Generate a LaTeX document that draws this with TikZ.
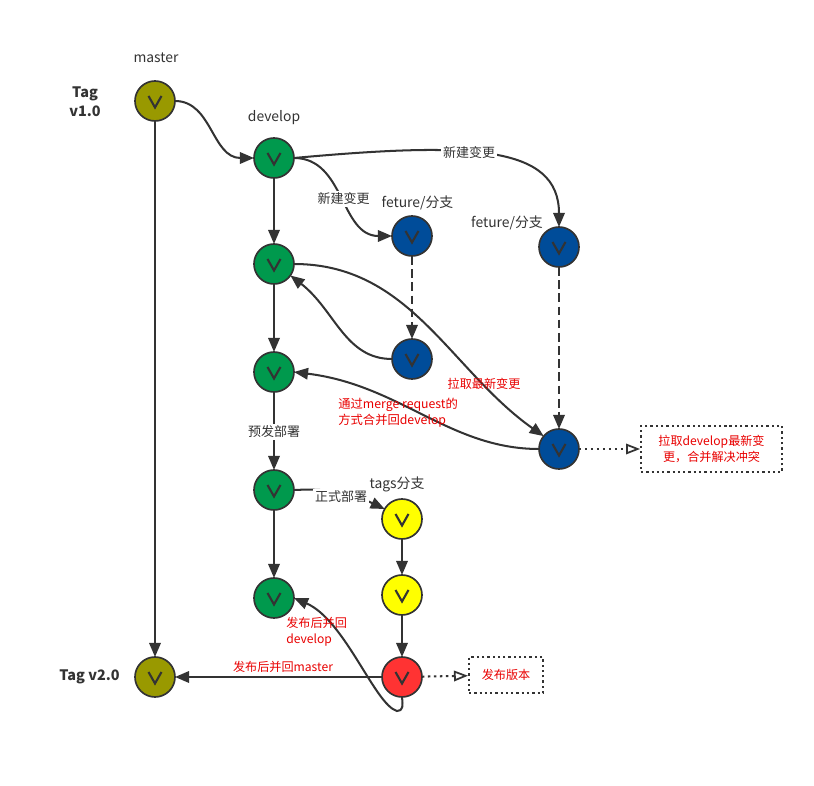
\documentclass[tikz,border=0pt]{standalone}
\usepackage{fontspec}
\setmainfont{Noto Sans CJK SC}
\usetikzlibrary{arrows.meta}
\definecolor{ink}{HTML}{333333}
\definecolor{olivec}{HTML}{999900}
\definecolor{greenc}{HTML}{00994D}
\definecolor{bluec}{HTML}{004C99}
\definecolor{yellowc}{HTML}{FFFF00}
\definecolor{redc}{HTML}{FF3333}
\definecolor{notec}{HTML}{E80000}
\begin{document}
\begin{tikzpicture}[
            x=.02cm, y=-.02cm,
            commit/.style={circle, draw=ink, line width=.95pt, minimum size=.8cm, inner sep=0pt, outer sep=0pt},
            tick/.style={draw=ink, line width=1.2pt},
            flow/.style={draw=ink, line width=1.15pt, -{Triangle[length=8pt, width=6.5pt]}},
            gap/.style={flow, dashed, dash pattern=on 5pt off 2.5pt},
            hint/.style={draw=ink, line width=1.15pt, dash pattern=on 1.4pt off 2pt, -{Triangle[open, length=8pt, width=6pt, line width=1pt, fill=white]}},
            lbl/.style={font=\fontsize{6.9}{9}\selectfont, text=ink, align=center, inner sep=0pt},
            branch/.style={lbl, font=\fontsize{7.9}{10}\selectfont},
            tag/.style={lbl, font=\fontsize{8.2}{11}\selectfont\bfseries},
            cut/.style={lbl, font=\fontsize{7.4}{10}\selectfont, fill=white, inner sep=1pt},
            note/.style={lbl, text=notec},
            notebox/.style={note, draw=ink, line width=1.1pt, dash pattern=on 1.3pt off 1.7pt, minimum height=.72cm},
        ]
            \useasboundingbox (0,0) rectangle (814,786);

            % one row per branch
            \foreach \n/\x/\y/\c in {m1/155/101/olivec, m2/155/677/olivec,
                d1/274/158/greenc, d2/274/264/greenc, d3/274/372/greenc, d4/274/490/greenc, d5/274/598/greenc,
                fa1/412/236/bluec, fa2/412/359/bluec, fb1/559/247/bluec, fb2/559/449/bluec,
                t1/402/519/yellowc, t2/402/595/yellowc, t3/402/677/redc}{
                \node[commit, fill=\c] (\n) at (\x, \y) {};
                \draw[tick] ([shift={(-6.5,-5)}]\n.center) -- ([shift={(0,6.5)}]\n.center) -- ([shift={(6.5,-5)}]\n.center);
            }

            % boxes
            \node[notebox, minimum width=2.82cm, minimum height=.92cm] (mergebox) at (711.5, 449) {拉取develop最新变\\更，合并解决冲突};
            \node[notebox, minimum width=1.48cm] (releasebox) at (506, 675) {发布版本};

            % straight links
            \draw[flow] (m1) -- (m2);
            \foreach \a/\b in {d1/d2, d2/d3, d3/d4, d4/d5, t1/t2, t2/t3}{
                \draw[flow] (\a) -- (\b);
            }
            \draw[flow] (t3) -- (m2);
            \draw[gap] (fa1) -- (fa2);
            \draw[gap] (fb1) -- (fb2);
            \draw[hint] (fb2) -- (mergebox);
            \draw[hint] (t3) -- (releasebox);

            % curved links
            \draw[flow] (m1.east) .. controls (212,101) and (212,158) .. (d1.west);
            \draw[flow] (d1.east) .. controls (345,158) and (340,236) .. (fa1.west);
            \draw[flow] (d1.east) .. controls (470,142) and (559,145) .. (fb1.north);
            \draw[flow] (fa2.west) .. controls (345,359) and (335,310) .. (d2.-35);
            \draw[flow] (d2.east) .. controls (410,264) and (450,370) .. (fb2.140);
            \draw[flow] (fb2.west) .. controls (450,449) and (400,385) .. (d3.east);
            \draw[flow] (d4.east) .. controls (335,488) and (355,495) .. (t1.150);
            \draw[flow] (t3.south) .. controls (403,706) and (403,711) .. (397,711)
                .. controls (375,705) and (345,620) .. (d5.east);

            % texts on the links
            \node[cut] (newa) at (343.5,199) {新建变更};
            \node[cut] (newb) at (469,153) {新建变更};
            \node[cut] (pre) at (274,432) {预发部署};
            \node[cut] (prod) at (341,497) {正式部署};

            % branch names
            \node[branch] (master) at (156,58) {master};
            \node[branch] (develop) at (274,118) {develop};
            \node[branch] (fetureA) at (417.5,203) {feture/分支};
            \node[branch] (fetureB) at (507,223) {feture/分支};
            \node[branch] (tags) at (397,484) {tags分支};
            \node[tag] (tagA) at (85,102) {Tag\\v1.0};
            \node[tag] (tagB) at (89.5,677) {Tag v2.0};

            % red remarks
            \node[note] (pull) at (484,384) {拉取最新变更};
            \node[note, font=\fontsize{7}{9}\selectfont, align=left, anchor=west] (mr) at (338,413) {通过merge request的\\方式合并回develop};
            \node[note, align=left, anchor=west] (backd) at (286,632) {发布后并回\\develop};
            \node[note] (backm) at (283,667) {发布后并回master};
        \end{tikzpicture}
\end{document}
